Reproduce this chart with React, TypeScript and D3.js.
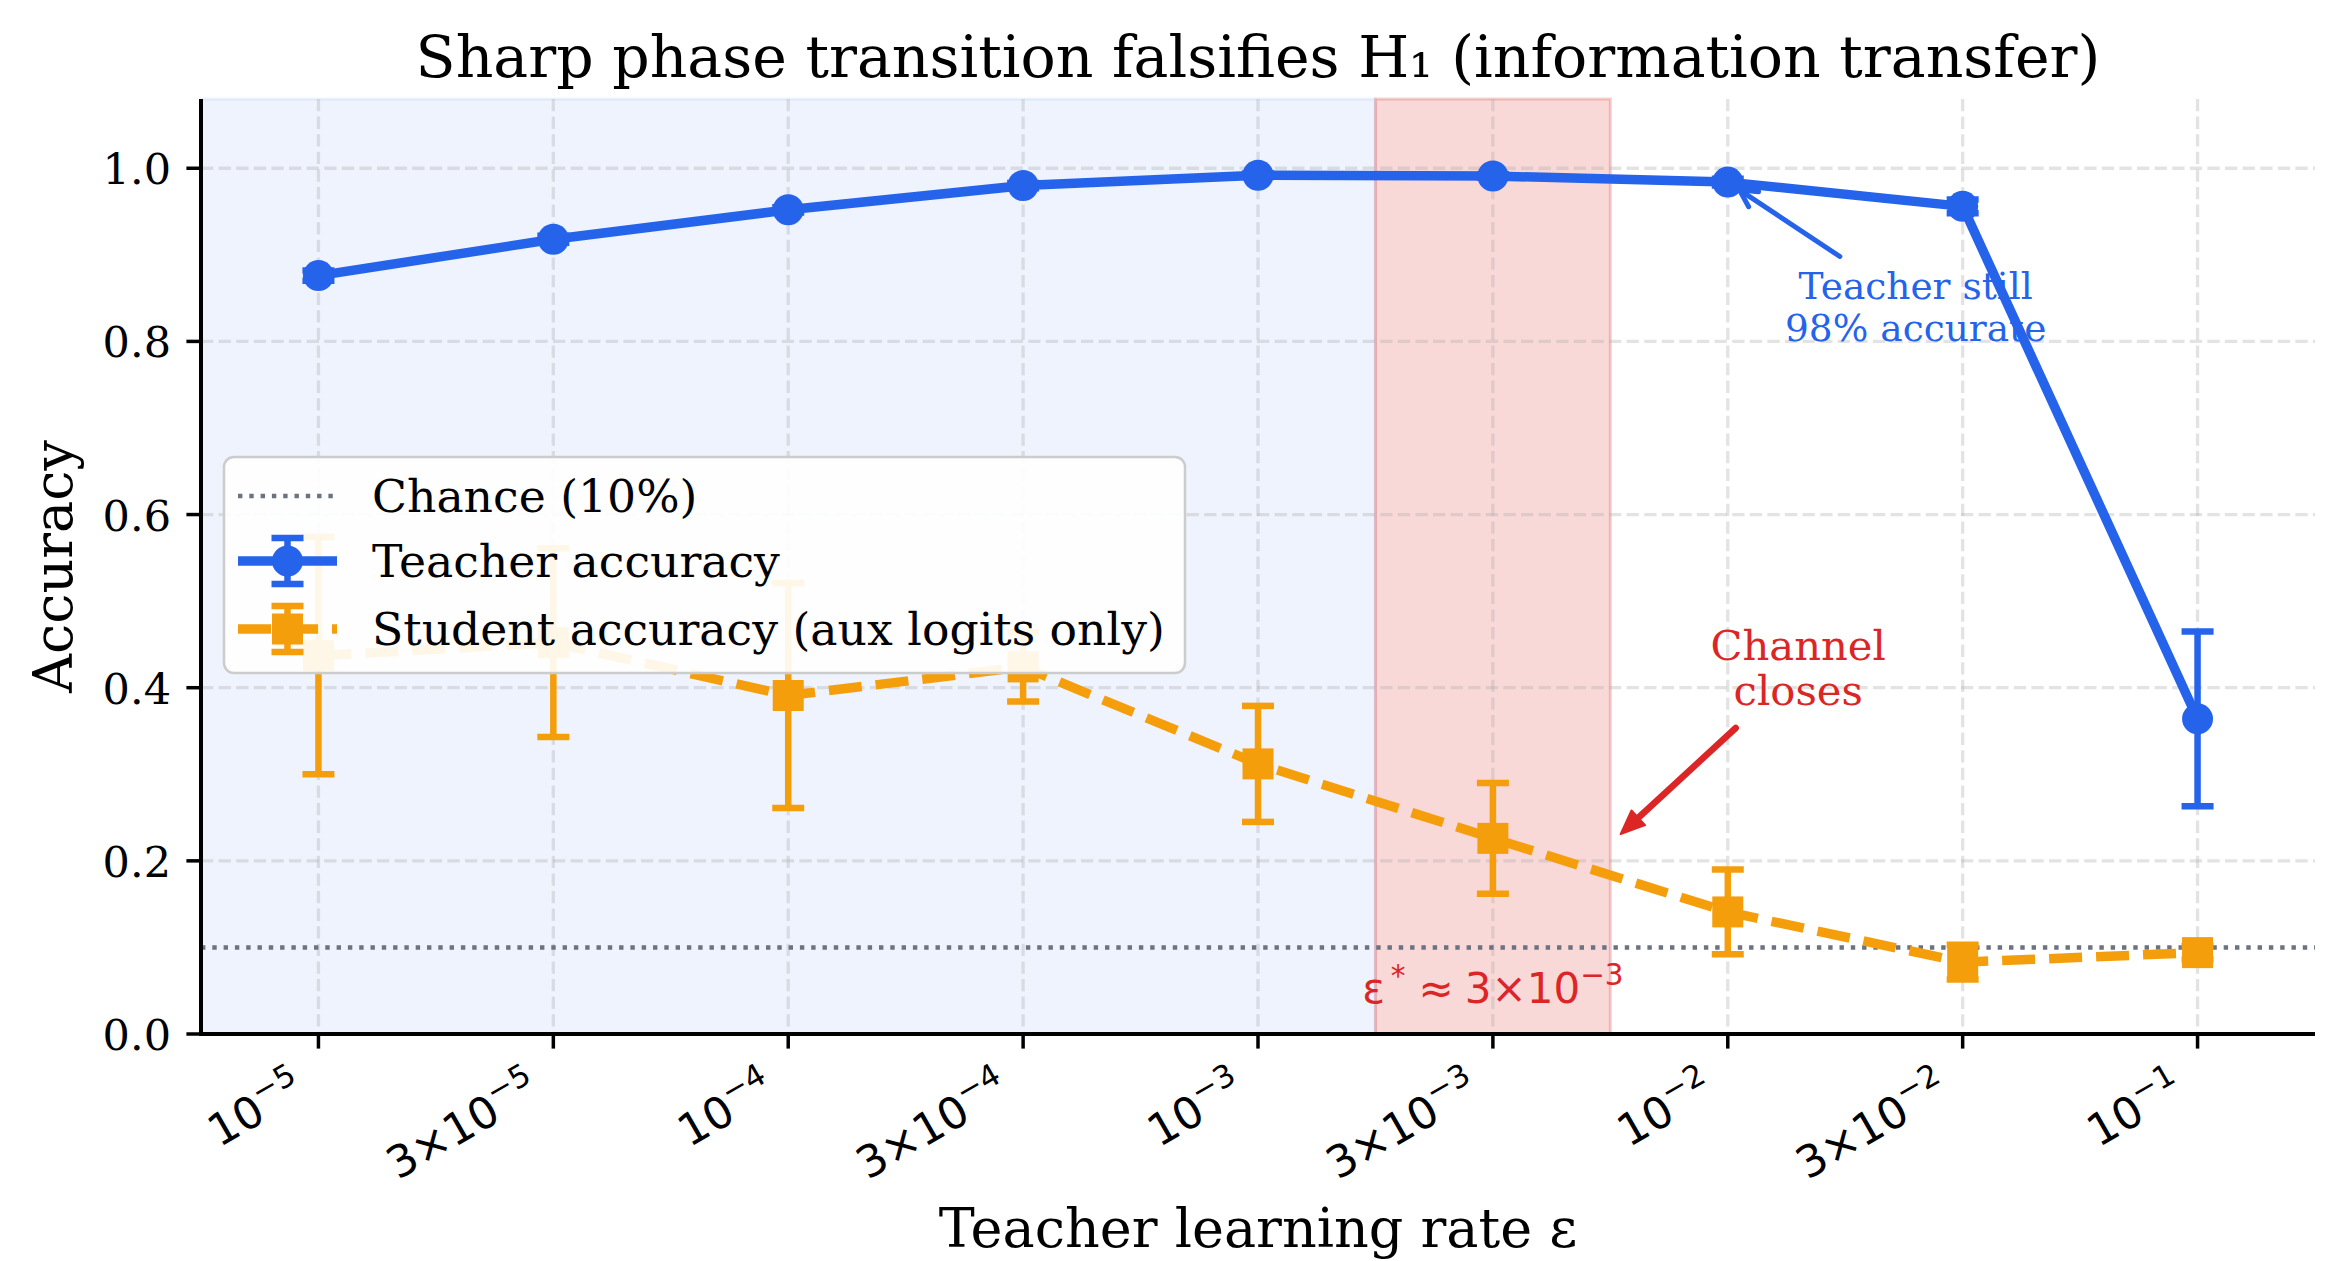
import * as d3 from 'd3';

// learning-rate grid (categorical positions, labelled as mantissa x 10^exp)
const lrMantissa = ['', '3×', '', '3×', '', '3×', '', '3×', ''];
const lrExponent = ['−5', '−5', '−4', '−4', '−3', '−3', '−2', '−2', '−1'];

const teacherAcc = [0.876, 0.918, 0.952, 0.98, 0.992, 0.991, 0.984, 0.956, 0.364];
const teacherErr = [0.006, 0.004, 0.003, 0.003, 0.002, 0.002, 0.004, 0.008, 0.101];
const studentAcc = [0.437, 0.452, 0.391, 0.424, 0.312, 0.226, 0.141, 0.083, 0.094];
const studentErr = [0.137, 0.109, 0.13, 0.04, 0.067, 0.064, 0.049, 0.02, 0.008];

const yTicks = [0, 0.2, 0.4, 0.6, 0.8, 1.0];
const chanceLevel = 0.1;
const stableBand = [-0.5, 4.5];
const transitionBand = [4.5, 5.5];

const BLUE = '#2563eb';
const ORANGE = '#f59e0b';
const RED = '#dc2626';
const GRAY = '#6b7280';
const SERIF = 'DejaVu Serif';
const SANS = 'DejaVu Sans';

const W = 2344;
const H = 1261;
const left = 201, right = 2315, top = 99, bottom = 1034;

const LINE_W = 9.5;
const ERR_W = 6.5;
const CAP = 16;
const MARK = 15.5;

type Pt = [number, number];

function Arrow({ from, to, shrinkA, shrinkB, color, width, filled }: {
  from: Pt; to: Pt; shrinkA: number; shrinkB: number; color: string; width: number; filled: boolean;
}) {
  const dx = to[0] - from[0], dy = to[1] - from[1];
  const len = Math.hypot(dx, dy);
  const ux = dx / len, uy = dy / len;
  const sx = from[0] + ux * shrinkA, sy = from[1] + uy * shrinkA;
  const ex = to[0] - ux * shrinkB, ey = to[1] - uy * shrinkB;
  const hl = filled ? 24 : 17, hw = filled ? 10 : 9;
  const bx = ex - ux * hl, by = ey - uy * hl;
  const p1: Pt = [bx - uy * hw, by + ux * hw];
  const p2: Pt = [bx + uy * hw, by - ux * hw];
  if (filled) {
    return (
      <g>
        <line x1={sx} y1={sy} x2={bx + ux * 4} y2={by + uy * 4} stroke={color} strokeWidth={width} strokeLinecap="round" />
        <path d={`M${ex},${ey}L${p1[0]},${p1[1]}L${p2[0]},${p2[1]}Z`} fill={color} stroke={color} strokeWidth={2} strokeLinejoin="round" />
      </g>
    );
  }
  return (
    <g fill="none" stroke={color} strokeWidth={width} strokeLinecap="round" strokeLinejoin="round">
      <line x1={sx} y1={sy} x2={ex} y2={ey} />
      <path d={`M${p1[0]},${p1[1]}L${ex},${ey}L${p2[0]},${p2[1]}`} />
    </g>
  );
}

function ErrorBars({ xs, vals, errs, color, x, y }: {
  xs: number[]; vals: number[]; errs: number[]; color: string;
  x: d3.ScaleLinear<number, number>; y: d3.ScaleLinear<number, number>;
}) {
  return (
    <g stroke={color} strokeWidth={ERR_W}>
      {xs.map((i) => {
        const cx = x(i), y0 = y(vals[i] - errs[i]), y1 = y(vals[i] + errs[i]);
        return (
          <g key={i}>
            <line x1={cx} x2={cx} y1={y0} y2={y1} />
            <line x1={cx - CAP} x2={cx + CAP} y1={y0} y2={y0} />
            <line x1={cx - CAP} x2={cx + CAP} y1={y1} y2={y1} />
          </g>
        );
      })}
    </g>
  );
}

function LegendErr({ cx, cy, color }: { cx: number; cy: number; color: string }) {
  return (
    <g stroke={color} strokeWidth={ERR_W}>
      <line x1={cx} x2={cx} y1={cy - 23} y2={cy + 23} />
      <line x1={cx - CAP} x2={cx + CAP} y1={cy - 23} y2={cy - 23} />
      <line x1={cx - CAP} x2={cx + CAP} y1={cy + 23} y2={cy + 23} />
    </g>
  );
}

export default function App() {
  const x = d3.scaleLinear().domain([-0.5, 8.5]).range([left, right]);
  const y = d3.scaleLinear().domain([0, 1.08]).range([bottom, top]);
  const idx = d3.range(lrExponent.length);

  const teacherPath = d3.line<number>().x((i) => x(i)).y((i) => y(teacherAcc[i]))(idx) ?? '';
  const studentPath = d3.line<number>().x((i) => x(i)).y((i) => y(studentAcc[i]))(idx) ?? '';

  const teacherNote: Pt = [x(6.8), y(0.84)];
  const teacherTarget: Pt = [x(6), y(teacherAcc[6])];
  const channelNote: Pt = [x(6.3), y(0.42)];
  const channelTarget: Pt = [x(5.5), y(0.22)];

  const lgX0 = 238, lgX1 = 337, lgMid = (lgX0 + lgX1) / 2;
  const rows = [496, 561, 629];

  return (
    <svg width={W} height={H} style={{ position: 'absolute', left: 0, top: 0, background: '#fff' }}>
      {/* shaded regimes */}
      <rect x={x(stableBand[0])} y={top} width={x(stableBand[1]) - x(stableBand[0])} height={bottom - top}
        fill={BLUE} fillOpacity={0.08} stroke={BLUE} strokeOpacity={0.08} strokeWidth={3} />
      <rect x={x(transitionBand[0])} y={top} width={x(transitionBand[1]) - x(transitionBand[0])} height={bottom - top}
        fill={RED} fillOpacity={0.18} stroke={RED} strokeOpacity={0.22} strokeWidth={3} />

      {/* grid */}
      <g stroke="#b0b0b0" strokeOpacity={0.35} strokeWidth={3.3} strokeDasharray="12.3,5.3">
        {idx.map((i) => <line key={`gx${i}`} x1={x(i)} x2={x(i)} y1={top} y2={bottom} />)}
        {yTicks.map((t) => <line key={`gy${t}`} x1={left} x2={right} y1={y(t)} y2={y(t)} />)}
      </g>

      {/* chance level */}
      <line x1={left} x2={right} y1={y(chanceLevel)} y2={y(chanceLevel)} stroke={GRAY} strokeWidth={4.4} strokeDasharray="4.4,6.9" />

      {/* annotations sitting under the series */}
      <g fontFamily={SERIF} fill={BLUE} fontSize={37.5} textAnchor="middle">
        <text x={teacherNote[0]} y={teacherNote[1] - 8}>Teacher still</text>
        <text x={teacherNote[0]} y={teacherNote[1] + 34}>98% accurate</text>
      </g>
      <Arrow from={teacherNote} to={teacherTarget} shrinkA={91} shrinkB={14} color={BLUE} width={5} filled={false} />

      <g fontFamily={SERIF} fill={RED} fontSize={41.7} textAnchor="middle">
        <text x={channelNote[0]} y={channelNote[1] - 10}>Channel</text>
        <text x={channelNote[0]} y={channelNote[1] + 35}>closes</text>
      </g>
      <Arrow from={channelNote} to={channelTarget} shrinkA={85} shrinkB={14} color={RED} width={6.5} filled={true} />

      <text x={x(5)} y={y(0.036)} fontFamily={SANS} fontSize={42} fill={RED} textAnchor="middle">
        <tspan>ε</tspan>
        <tspan fontSize={29.5} dy={-17} dx={6}>*</tspan>
        <tspan dy={17} dx={13}>≈</tspan>
        <tspan dx={11}>3×10</tspan>
        <tspan fontSize={29.5} dy={-18}>−3</tspan>
      </text>

      {/* teacher series */}
      <ErrorBars xs={idx} vals={teacherAcc} errs={teacherErr} color={BLUE} x={x} y={y} />
      <path d={teacherPath} fill="none" stroke={BLUE} strokeWidth={LINE_W} strokeLinejoin="round" />
      {idx.map((i) => <circle key={`t${i}`} cx={x(i)} cy={y(teacherAcc[i])} r={MARK} fill={BLUE} />)}

      {/* student series */}
      <ErrorBars xs={idx} vals={studentAcc} errs={studentErr} color={ORANGE} x={x} y={y} />
      <path d={studentPath} fill="none" stroke={ORANGE} strokeWidth={LINE_W} strokeDasharray="33,14" />
      {idx.map((i) => (
        <rect key={`s${i}`} x={x(i) - MARK} y={y(studentAcc[i]) - MARK} width={2 * MARK} height={2 * MARK} fill={ORANGE} />
      ))}

      {/* spines and ticks */}
      <g stroke="#000">
        <line x1={left} x2={left} y1={top} y2={bottom + 2} strokeWidth={4} />
        <line x1={left - 2} x2={right} y1={bottom} y2={bottom} strokeWidth={4} />
        {yTicks.map((t) => <line key={`ty${t}`} x1={left - 14.6} x2={left} y1={y(t)} y2={y(t)} strokeWidth={3.5} />)}
        {idx.map((i) => <line key={`tx${i}`} x1={x(i)} x2={x(i)} y1={bottom} y2={bottom + 14.6} strokeWidth={3.5} />)}
      </g>
      <g fontFamily={SERIF} fontSize={43} textAnchor="end">
        {yTicks.map((t) => <text key={`ly${t}`} x={171} y={y(t) + 16}>{t.toFixed(1)}</text>)}
      </g>
      <g fontFamily={SANS} fontSize={44} textAnchor="end">
        {idx.map((i) => (
          <text key={`lx${i}`} transform={`translate(${x(i) - 11},1097) rotate(-30)`}>
            {lrMantissa[i]}10<tspan fontSize={31} dy={-18.5}>{lrExponent[i]}</tspan>
          </text>
        ))}
      </g>

      {/* titles */}
      <text x={(left + right) / 2} y={77} fontFamily={SERIF} fontSize={58.5} textAnchor="middle">
        Sharp phase transition falsifies H₁ (information transfer)
      </text>
      <text x={(left + right) / 2} y={1247} fontFamily={SERIF} fontSize={54} textAnchor="middle">
        Teacher learning rate ε
      </text>
      <text transform={`translate(72,${(top + bottom) / 2}) rotate(-90)`} fontFamily={SERIF} fontSize={54} textAnchor="middle">
        Accuracy
      </text>

      {/* legend */}
      <rect x={224} y={457} width={961} height={216} rx={10} fill="#fff" fillOpacity={0.9} stroke="#cccccc" strokeWidth={2.5} />
      <line x1={lgX0} x2={lgX1} y1={rows[0]} y2={rows[0]} stroke={GRAY} strokeWidth={4.4} strokeDasharray="4.4,6.9" />
      <LegendErr cx={lgMid} cy={rows[1]} color={BLUE} />
      <line x1={lgX0} x2={lgX1} y1={rows[1]} y2={rows[1]} stroke={BLUE} strokeWidth={LINE_W} />
      <circle cx={lgMid} cy={rows[1]} r={MARK} fill={BLUE} />
      <LegendErr cx={lgMid} cy={rows[2]} color={ORANGE} />
      <line x1={lgX0} x2={lgX1} y1={rows[2]} y2={rows[2]} stroke={ORANGE} strokeWidth={LINE_W} strokeDasharray="33,14" />
      <rect x={lgMid - MARK} y={rows[2] - MARK} width={2 * MARK} height={2 * MARK} fill={ORANGE} />
      <g fontFamily={SERIF} fontSize={45.7}>
        <text x={372} y={rows[0] + 16}>Chance (10%)</text>
        <text x={372} y={rows[1] + 16}>Teacher accuracy</text>
        <text x={372} y={rows[2] + 16}>Student accuracy (aux logits only)</text>
      </g>
    </svg>
  );
}
